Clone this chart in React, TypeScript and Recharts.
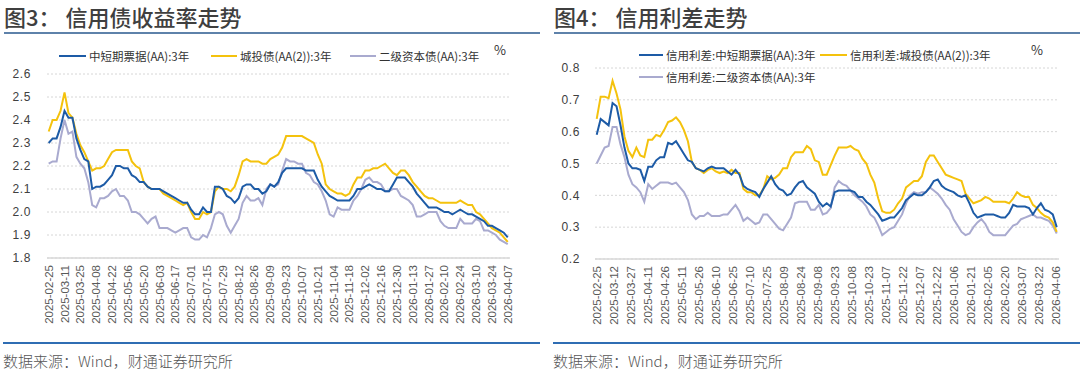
import React from 'react';
import { LineChart, Line, XAxis, YAxis, CartesianGrid } from 'recharts';

// samples: one on each week from 2025-02-25, one half a week later
const START = '2025-02-25';
const STEP_DAYS = 7;

const yieldTickDates = [
  '2025-02-25', '2025-03-11', '2025-03-25', '2025-04-08', '2025-04-22', '2025-05-06',
  '2025-05-20', '2025-06-03', '2025-06-17', '2025-07-01', '2025-07-15', '2025-07-29',
  '2025-08-12', '2025-08-26', '2025-09-09', '2025-09-23', '2025-10-07', '2025-10-21',
  '2025-11-04', '2025-11-18', '2025-12-02', '2025-12-16', '2025-12-30', '2026-01-13',
  '2026-01-27', '2026-02-10', '2026-02-24', '2026-03-10', '2026-03-24', '2026-04-07',
];
const spreadTickDates = [
  '2025-02-25', '2025-03-12', '2025-03-27', '2025-04-11', '2025-04-26', '2025-05-11',
  '2025-05-26', '2025-06-10', '2025-06-25', '2025-07-10', '2025-07-25', '2025-08-09',
  '2025-08-24', '2025-09-08', '2025-09-23', '2025-10-08', '2025-10-23', '2025-11-07',
  '2025-11-22', '2025-12-07', '2025-12-22', '2026-01-06', '2026-01-21', '2026-02-05',
  '2026-02-20', '2026-03-07', '2026-03-22', '2026-04-06',
];

const yieldYTicks = [1.8, 1.9, 2.0, 2.1, 2.2, 2.3, 2.4, 2.5, 2.6];
const spreadYTicks = [0.2, 0.3, 0.4, 0.5, 0.6, 0.7, 0.8];

// 图3 收益率 (%) — week points / mid-week points
const mtnYield = [
  2.30, 2.32, 2.44, 2.41, 2.27, 2.22, 2.11, 2.12, 2.16, 2.20, 2.19, 2.15, 2.13, 2.10, 2.10,
  2.08, 2.06, 2.04, 2.01, 1.99, 2.00, 2.11, 2.10, 2.06, 2.06, 2.12, 2.10, 2.08, 2.12, 2.13,
  2.19, 2.19, 2.19, 2.18, 2.14, 2.09, 2.06, 2.05, 2.05, 2.10, 2.11, 2.11, 2.10, 2.09, 2.15,
  2.15, 2.11, 2.06, 2.02, 2.02, 2.00, 1.99, 2.01, 1.99, 1.98, 1.96, 1.94, 1.92, 1.89,
];
const mtnYieldMid = [
  2.32, 2.37, 2.41, 2.32, 2.23, 2.10, 2.11, 2.14, 2.20, 2.19, 2.16, 2.13, 2.11, 2.10, 2.09,
  2.07, 2.05, 2.04, 1.99, 2.02, 2.00, 2.11, 2.07, 2.04, 2.11, 2.12, 2.10, 2.09, 2.11, 2.17,
  2.19, 2.19, 2.18, 2.18, 2.11, 2.07, 2.05, 2.05, 2.07, 2.10, 2.12, 2.10, 2.09, 2.12, 2.15,
  2.13, 2.08, 2.04, 2.02, 2.01, 2.00, 2.00, 2.00, 1.99, 1.97, 1.94, 1.93, 1.91,
];
const lgfvYield = [
  2.35, 2.40, 2.52, 2.41, 2.29, 2.22, 2.19, 2.20, 2.26, 2.27, 2.27, 2.20, 2.13, 2.10, 2.10,
  2.07, 2.05, 2.03, 2.00, 1.97, 1.99, 2.09, 2.10, 2.09, 2.16, 2.23, 2.22, 2.21, 2.23, 2.25,
  2.33, 2.33, 2.33, 2.31, 2.25, 2.12, 2.09, 2.08, 2.08, 2.15, 2.18, 2.19, 2.20, 2.19, 2.16,
  2.18, 2.13, 2.09, 2.06, 2.05, 2.04, 2.04, 2.05, 2.03, 2.00, 1.97, 1.93, 1.91, 1.87,
];
const lgfvYieldMid = [
  2.40, 2.44, 2.43, 2.34, 2.26, 2.18, 2.19, 2.23, 2.27, 2.27, 2.22, 2.19, 2.11, 2.10, 2.08,
  2.06, 2.04, 2.04, 1.97, 2.00, 2.00, 2.11, 2.10, 2.11, 2.22, 2.22, 2.22, 2.21, 2.24, 2.28,
  2.33, 2.33, 2.32, 2.30, 2.21, 2.10, 2.08, 2.07, 2.12, 2.15, 2.18, 2.19, 2.21, 2.17, 2.18,
  2.16, 2.11, 2.07, 2.06, 2.04, 2.04, 2.04, 2.04, 2.03, 1.99, 1.95, 1.92, 1.89,
];
const tier2Yield = [
  2.21, 2.22, 2.40, 2.35, 2.21, 2.13, 2.02, 2.06, 2.09, 2.07, 2.05, 2.00, 1.97, 1.97, 1.93,
  1.93, 1.91, 1.93, 1.89, 1.88, 1.89, 1.99, 1.99, 1.91, 1.97, 2.07, 2.05, 2.03, 2.12, 2.12,
  2.23, 2.22, 2.21, 2.16, 2.12, 2.05, 1.98, 2.01, 2.01, 2.07, 2.14, 2.13, 2.12, 2.09, 2.10,
  2.06, 2.03, 1.98, 2.00, 2.00, 1.94, 1.93, 1.97, 1.95, 1.97, 1.92, 1.91, 1.88, 1.86,
];
const tier2YieldMid = [
  2.22, 2.32, 2.34, 2.24, 2.19, 2.03, 2.06, 2.07, 2.10, 2.07, 2.00, 1.99, 1.95, 1.98, 1.93,
  1.92, 1.92, 1.93, 1.88, 1.90, 1.93, 2.00, 1.94, 1.94, 2.04, 2.05, 2.06, 2.10, 2.11, 2.18,
  2.22, 2.21, 2.17, 2.13, 2.09, 1.99, 2.02, 2.01, 2.05, 2.10, 2.15, 2.13, 2.09, 2.10, 2.07,
  2.05, 1.98, 1.99, 2.00, 1.96, 1.93, 1.93, 1.95, 1.95, 1.96, 1.92, 1.90, 1.87,
];

// 图4 信用利差 (%) — week points / mid-week points
const mtnSpread = [
  0.59, 0.63, 0.69, 0.62, 0.50, 0.485, 0.445, 0.49, 0.52, 0.565, 0.57, 0.53, 0.505, 0.48, 0.485,
  0.485, 0.485, 0.465, 0.465, 0.42, 0.41, 0.42, 0.46, 0.42, 0.40, 0.425, 0.445, 0.415, 0.38, 0.375,
  0.41, 0.415, 0.415, 0.395, 0.38, 0.355, 0.32, 0.33, 0.345, 0.385, 0.405, 0.40, 0.425, 0.45, 0.42,
  0.41, 0.395, 0.375, 0.33, 0.34, 0.34, 0.33, 0.345, 0.365, 0.365, 0.34, 0.375, 0.35, 0.30,
];
const mtnSpreadMid = [
  0.64, 0.62, 0.68, 0.55, 0.485, 0.48, 0.49, 0.51, 0.52, 0.56, 0.55, 0.51, 0.485, 0.475, 0.49,
  0.485, 0.475, 0.48, 0.43, 0.415, 0.395, 0.44, 0.435, 0.415, 0.405, 0.44, 0.425, 0.405, 0.365, 0.365,
  0.415, 0.415, 0.41, 0.395, 0.37, 0.34, 0.325, 0.33, 0.36, 0.395, 0.40, 0.41, 0.445, 0.43, 0.415,
  0.40, 0.40, 0.345, 0.335, 0.34, 0.335, 0.33, 0.37, 0.365, 0.36, 0.36, 0.355, 0.34,
];
const lgfvSpread = [
  0.64, 0.71, 0.76, 0.67, 0.54, 0.55, 0.52, 0.575, 0.585, 0.63, 0.645, 0.605, 0.505, 0.48, 0.48,
  0.475, 0.475, 0.48, 0.47, 0.41, 0.40, 0.42, 0.45, 0.465, 0.485, 0.535, 0.535, 0.545, 0.505, 0.465,
  0.525, 0.55, 0.555, 0.54, 0.50, 0.44, 0.35, 0.345, 0.375, 0.425, 0.445, 0.46, 0.525, 0.505, 0.465,
  0.455, 0.445, 0.39, 0.38, 0.395, 0.38, 0.38, 0.375, 0.41, 0.395, 0.37, 0.345, 0.33, 0.285,
];
const lgfvSpreadMid = [
  0.71, 0.705, 0.72, 0.585, 0.52, 0.525, 0.575, 0.59, 0.605, 0.635, 0.63, 0.57, 0.485, 0.47, 0.485,
  0.47, 0.47, 0.47, 0.42, 0.41, 0.40, 0.46, 0.455, 0.485, 0.52, 0.535, 0.555, 0.51, 0.465, 0.495,
  0.55, 0.55, 0.545, 0.515, 0.465, 0.39, 0.345, 0.355, 0.39, 0.435, 0.445, 0.505, 0.525, 0.485, 0.46,
  0.45, 0.405, 0.375, 0.385, 0.39, 0.38, 0.38, 0.39, 0.40, 0.395, 0.36, 0.335, 0.315,
];
const tier2Spread = [
  0.50, 0.55, 0.615, 0.56, 0.465, 0.425, 0.38, 0.42, 0.44, 0.44, 0.44, 0.41, 0.34, 0.335, 0.345,
  0.335, 0.34, 0.355, 0.35, 0.33, 0.31, 0.34, 0.325, 0.295, 0.31, 0.375, 0.38, 0.355, 0.37, 0.345,
  0.425, 0.435, 0.415, 0.39, 0.365, 0.33, 0.275, 0.295, 0.32, 0.375, 0.41, 0.41, 0.425, 0.405, 0.37,
  0.325, 0.285, 0.28, 0.315, 0.31, 0.275, 0.275, 0.29, 0.31, 0.33, 0.34, 0.33, 0.32, 0.28,
];
const tier2SpreadMid = [
  0.525, 0.555, 0.615, 0.52, 0.435, 0.41, 0.435, 0.43, 0.44, 0.435, 0.425, 0.385, 0.325, 0.335, 0.335,
  0.335, 0.34, 0.37, 0.32, 0.32, 0.315, 0.34, 0.31, 0.29, 0.33, 0.38, 0.38, 0.355, 0.34, 0.36,
  0.445, 0.43, 0.40, 0.38, 0.34, 0.305, 0.285, 0.30, 0.34, 0.40, 0.405, 0.41, 0.415, 0.39, 0.355,
  0.305, 0.275, 0.30, 0.325, 0.285, 0.275, 0.275, 0.305, 0.325, 0.335, 0.33, 0.325, 0.305,
];

const BLUE = '#1d5ba6';
const YELLOW = '#f4c20d';
const LAVENDER = '#a9aacf';
const CJK = '"Noto Sans CJK SC", "Noto Sans", sans-serif';

const dayOf = (s: string) => Math.round((Date.parse(s) - Date.parse(START)) / 86400000);

const makeRows = (
  blue: number[], blueMid: number[],
  yellow: number[], yellowMid: number[],
  lav: number[], lavMid: number[],
) => {
  const rows: any[] = [];
  blue.forEach((v, i) => {
    rows.push({ day: i * STEP_DAYS, blue: v, yellow: yellow[i], lav: lav[i] });
    if (i < blueMid.length) {
      rows.push({ day: i * STEP_DAYS + STEP_DAYS / 2, blue: blueMid[i], yellow: yellowMid[i], lav: lavMid[i] });
    }
  });
  return rows;
};

const DateTick = ({ x, y, payload, labels }: any) => {
  const label = labels[payload.value] ?? '';
  return (
    <text
      x={x}
      y={y}
      transform={`rotate(-90, ${x}, ${y})`}
      textAnchor="end"
      dy="0.35em"
      fontSize={11.5}
      fill="#595959"
      fontFamily='"Liberation Sans", Arial, sans-serif'
    >
      {label}
    </text>
  );
};

type LegendItem = { name: string; color: string; lineX: number; textX: number; y: number };

function Panel(props: {
  left: number;
  title: string;
  titleX: number;
  legend: LegendItem[];
  pctX: number;
  rows: any[];
  tickDates: string[];
  yTicks: number[];
  yAxisWidth: number;
  plotRight: number;
  plotTop: number;
  plotBottom: number;
  lineX: number;
}) {
  const { left, title, titleX, legend, pctX, rows, tickDates, yTicks } = props;
  const tickDays = tickDates.map(dayOf);
  const labels: Record<number, string> = {};
  tickDates.forEach((d) => (labels[dayOf(d)] = d));
  const H = 340;

  return (
    <div style={{ position: 'absolute', left, top: 0, width: 540, height: 373 }}>
      <div
        style={{
          position: 'absolute', left: titleX, top: 3, fontFamily: CJK, fontSize: 22,
          lineHeight: '26px', color: '#3f3f3f', fontWeight: 500, whiteSpace: 'pre',
        }}
      >
        {title}
      </div>
      <div style={{ position: 'absolute', left: titleX, right: 0, top: 32, height: 2, background: '#5e82aa' }} />

      <div style={{ position: 'absolute', left: 0, top: 0 }}>
        <LineChart
          width={540}
          height={H}
          data={rows}
          margin={{ top: props.plotTop, right: 540 - props.plotRight, bottom: 12, left: 0 }}
          style={{ fontFamily: '"Liberation Sans", Arial, sans-serif' }}
        >
          <CartesianGrid vertical={false} stroke="#d6d6d6" strokeDasharray="2 2" />
          <XAxis
            dataKey="day"
            type="number"
            domain={[-1.5, 408]}
            ticks={tickDays}
            interval={0}
            height={H - 12 - props.plotBottom}
            tickSize={0}
            tickMargin={7}
            axisLine={{ stroke: '#d9d9d9', strokeWidth: 1.5 }}
            tickLine={false}
            tick={<DateTick labels={labels} />}
          />
          <YAxis
            type="number"
            domain={[yTicks[0], yTicks[yTicks.length - 1]]}
            ticks={yTicks}
            interval={0}
            width={props.yAxisWidth}
            axisLine={false}
            tickLine={false}
            tickSize={0}
            tickMargin={props.yAxisWidth - props.lineX}
            tick={{ fontSize: 12, fill: '#404040', letterSpacing: 0.6 }}
            tickFormatter={(v: number) => v.toFixed(1)}
          />
          <Line dataKey="lav" stroke={LAVENDER} strokeWidth={2} dot={false} isAnimationActive={false} type="linear" />
          <Line dataKey="yellow" stroke={YELLOW} strokeWidth={2} dot={false} isAnimationActive={false} type="linear" />
          <Line dataKey="blue" stroke={BLUE} strokeWidth={2} dot={false} isAnimationActive={false} type="linear" />
        </LineChart>
      </div>

      {legend.map((it) => (
        <React.Fragment key={it.name}>
          <div style={{ position: 'absolute', left: it.lineX, top: it.y - 1, width: it.textX - it.lineX - 3, height: 2, background: it.color }} />
          <div
            style={{
              position: 'absolute', left: it.textX, top: it.y - 8, fontFamily: CJK, fontSize: 11.5,
              lineHeight: '16px', color: '#333', whiteSpace: 'pre',
            }}
          >
            {it.name}
          </div>
        </React.Fragment>
      ))}
      <div style={{ position: 'absolute', left: pctX, top: 42, fontFamily: CJK, fontSize: 13, lineHeight: '16px', color: '#333' }}>%</div>

      <div style={{ position: 'absolute', left: titleX - 1, right: 0, top: 342, height: 2, background: '#2f6db3' }} />
      <div
        style={{
          position: 'absolute', left: titleX - 1, top: 351, fontFamily: CJK, fontSize: 15,
          lineHeight: '20px', color: '#555', fontWeight: 300, whiteSpace: 'pre',
        }}
      >
        数据来源：Wind，财通证券研究所
      </div>
    </div>
  );
}

export default function App() {
  return (
    <div style={{ position: 'relative', width: 1080, height: 373, background: '#fff', overflow: 'hidden' }}>
      <style>{'body{margin:0}'}</style>
      <Panel
        left={0}
        title="图3： 信用债收益率走势"
        titleX={4}
        pctX={494}
        rows={makeRows(mtnYield, mtnYieldMid, lgfvYield, lgfvYieldMid, tier2Yield, tier2YieldMid)}
        tickDates={yieldTickDates}
        yTicks={yieldYTicks}
        yAxisWidth={47}
        lineX={31}
        plotRight={510}
        plotTop={74}
        plotBottom={258}
        legend={[
          { name: '中短期票据(AA):3年', color: BLUE, lineX: 59, textX: 89, y: 56 },
          { name: '城投债(AA(2)):3年', color: YELLOW, lineX: 211, textX: 240, y: 56 },
          { name: '二级资本债(AA):3年', color: LAVENDER, lineX: 350, textX: 379, y: 56 },
        ]}
      />
      <Panel
        left={540}
        title="图4： 信用利差走势"
        titleX={14}
        pctX={491}
        rows={makeRows(mtnSpread, mtnSpreadMid, lgfvSpread, lgfvSpreadMid, tier2Spread, tier2SpreadMid)}
        tickDates={spreadTickDates}
        yTicks={spreadYTicks}
        yAxisWidth={55}
        lineX={40}
        plotRight={519}
        plotTop={68}
        plotBottom={259}
        legend={[
          { name: '信用利差:中短期票据(AA):3年', color: BLUE, lineX: 99, textX: 126, y: 55 },
          { name: '信用利差:城投债(AA(2)):3年', color: YELLOW, lineX: 280, textX: 310, y: 55 },
          { name: '信用利差:二级资本债(AA):3年', color: LAVENDER, lineX: 99, textX: 126, y: 77 },
        ]}
      />
    </div>
  );
}
